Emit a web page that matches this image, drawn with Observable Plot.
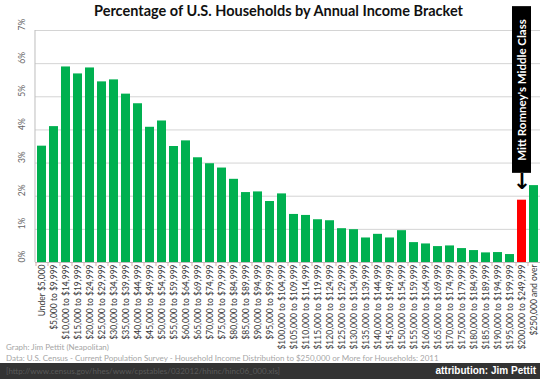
<!DOCTYPE html>
<html>
<head>
<meta charset="utf-8">
<script src="https://cdn.jsdelivr.net/npm/d3@7"></script>
<script src="https://cdn.jsdelivr.net/npm/@observablehq/plot@0.6"></script>
<style>
  html, body { margin: 0; padding: 0; background: #fff; }
  body { width: 540px; height: 379px; overflow: hidden; position: relative; font-family: Lato, "Open Sans", sans-serif; }
  #title { height: 22px; line-height: 22px; text-align: center; font-weight: bold; font-size: 14.5px; color: #111; padding-left: 17px; box-sizing: border-box; width: 540px; }
  #chart svg { display: block; overflow: visible; }
  .cap { font-size: 8px; color: #a6a6a6; padding-left: 6px; white-space: nowrap; }
  #band { position: relative; background: #333333; height: 16px; }
  #url { position: absolute; left: 6px; top: 0; line-height: 16px; font-size: 8px; color: #5a5a5a; white-space: nowrap; }
  #attr { position: absolute; right: 4px; top: 0; line-height: 16px; font-family: "Liberation Sans", Arial, sans-serif; font-weight: bold; font-size: 10px; color: #fff; white-space: nowrap; }
</style>
</head>
<body>
<div id="title">Percentage of U.S. Households by Annual Income Bracket</div>
<div id="chart"></div>
<div class="cap" style="height:12px;line-height:12px;">Graph: Jim Pettit (Neapolitan)</div>
<div class="cap" style="height:10px;line-height:10px;">Data: U.S. Census - Current Population Survey - Household Income Distribution to $250,000 or More for Households: 2011</div>
<div id="band"><span id="url">[http://www.census.gov/hhes/www/cpstables/032012/hhinc/hinc06_000.xls]</span><span id="attr">attribution: Jim Pettit</span></div>
<script>
const categories = [
  "Under $5,000", "$5,000 to $9,999", "$10,000 to $14,999", "$15,000 to $19,999",
  "$20,000 to $24,999", "$25,000 to $29,999", "$30,000 to $34,999", "$35,000 to $39,999",
  "$40,000 to $44,999", "$45,000 to $49,999", "$50,000 to $54,999", "$55,000 to $59,999",
  "$60,000 to $64,999", "$65,000 to $69,999", "$70,000 to $74,999", "$75,000 to $79,999",
  "$80,000 to $84,999", "$85,000 to $89,999", "$90,000 to $94,999", "$95,000 to $99,999",
  "$100,000 to $104,999", "$105,000 to $109,999", "$110,000 to $114,999", "$115,000 to $119,999",
  "$120,000 to $124,999", "$125,000 to $129,999", "$130,000 to $134,999", "$135,000 to $139,999",
  "$140,000 to $144,999", "$145,000 to $149,999", "$150,000 to $154,999", "$155,000 to $159,999",
  "$160,000 to $164,999", "$165,000 to $169,999", "$170,000 to $174,999", "$175,000 to $179,999",
  "$180,000 to $184,999", "$185,000 to $189,999", "$190,000 to $194,999", "$195,000 to $199,999",
  "$200,000 to $249,999", "$250,000 and over"
];
const values = [
  3.51, 4.10, 5.90, 5.69, 5.87, 5.45, 5.51, 5.08, 4.79, 4.08,
  4.27, 3.50, 3.67, 3.16, 2.98, 2.85, 2.51, 2.11, 2.13, 1.84,
  2.07, 1.45, 1.42, 1.29, 1.26, 1.02, 0.99, 0.74, 0.85, 0.74,
  0.96, 0.60, 0.56, 0.48, 0.50, 0.42, 0.36, 0.29, 0.30, 0.24,
  1.88, 2.32
];
const yTicks = [0, 1, 2, 3, 4, 5, 6, 7];
const highlight = "$200,000 to $249,999";
const annotationText = "Mitt Romney's Middle Class";
const annotationTop = 7.72;
const annotationBottom = 2.69;

const data = categories.map((c, i) => ({cat: c, value: values[i]}));
const highlightValue = values[categories.indexOf(highlight)];

const W = 540, H = 319, mL = 35, mR = 0, mT = 8, mB = 79;
const step = (W - mL - mR) / categories.length;

const chart = Plot.plot({
  width: W, height: H,
  marginLeft: mL, marginRight: mR, marginTop: mT, marginBottom: mB,
  style: {overflow: "visible", fontFamily: "Lato, 'Open Sans', sans-serif", fontSize: "8.5px", background: "transparent", color: "#3a3a3a"},
  x: {domain: categories, paddingInner: 0.25, paddingOuter: 0.125, tickRotate: -90, tickSize: 0, tickPadding: 2, label: null},
  y: {domain: [0, 7], axis: null},
  marks: [
    Plot.ruleY(yTicks, {y: d => d, stroke: "#d4d4d4", strokeWidth: 1}),
    Plot.ruleX([categories[0]], {x: d => d, y1: 0, y2: 7, dx: -step / 2 - 1, stroke: "#bdbdbd"}),
    Plot.barY(data, {x: "cat", y: "value", fill: d => d.cat === highlight ? "#ff0000" : "#00b050"}),
    Plot.ruleY([0], {stroke: "#bdbdbd"}),
    Plot.ruleX(categories, {x: d => d, y1: 0, y2: 0, dx: -step / 2, insetBottom: -4, stroke: "#d8b0b0"}),
    Plot.text(yTicks, {y: d => d, text: d => d + "%", frameAnchor: "left", dx: -13, rotate: -90, fontSize: 8.5, fill: "#666"}),
    Plot.barY([highlight], {x: d => d, y1: annotationBottom, y2: annotationTop, fill: "black", insetLeft: -5, insetRight: -5}),
    Plot.text([highlight], {x: d => d, y: (annotationTop + annotationBottom) / 2, text: () => annotationText, rotate: -90, fill: "white", fontWeight: "bold", fontSize: 11.5}),
    Plot.text([highlight], {x: d => d, y: highlightValue, dy: -18, text: () => "↓", fontSize: 22, fontWeight: "bold", fill: "black", fontFamily: "DejaVu Sans"})
  ]
});
document.getElementById("chart").appendChild(chart);
</script>
</body>
</html>
